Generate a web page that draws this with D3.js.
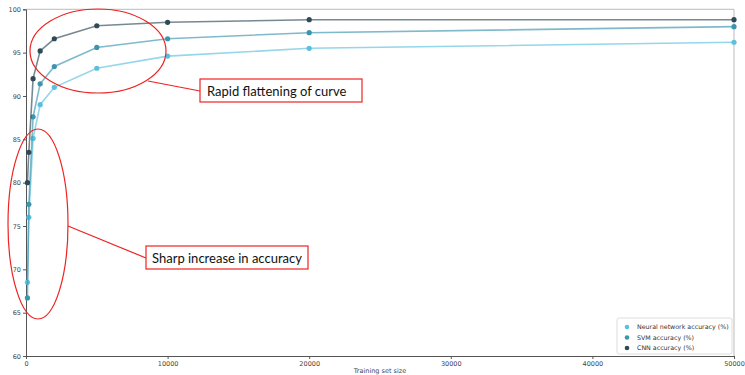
<!DOCTYPE html>
<html><head><meta charset="utf-8">
<script src="https://cdn.jsdelivr.net/npm/d3@7"></script>
<style>body{margin:0;background:#fff}svg{display:block}</style>
</head><body><svg id="c" width="745" height="375"></svg>
<script>
const sizes = [100, 200, 500, 1000, 2000, 5000, 10000, 20000, 50000];
const nnAcc  = [68.5, 76.0, 85.1, 89.0, 91.0, 93.2, 94.6, 95.5, 96.2];
const svmAcc = [66.7, 77.5, 87.6, 91.4, 93.4, 95.6, 96.6, 97.3, 98.0];
const cnnAcc = [80.0, 83.5, 92.0, 95.2, 96.6, 98.1, 98.5, 98.8, 98.8];
const seriesNames = ["Neural network accuracy (%)", "SVM accuracy (%)", "CNN accuracy (%)"];
const xTicks = [0, 10000, 20000, 30000, 40000, 50000];
const yTicks = [60, 65, 70, 75, 80, 85, 90, 95, 100];
const colors = ["#5bc0de", "#3b95ad", "#2e4a55"];

const svg = d3.select("#c");
const m = {l: 26, r: 734, t: 9.3, b: 356};
const x = d3.scaleLinear().domain([0, 50000]).range([m.l, m.r]);
const y = d3.scaleLinear().domain([60, 100]).range([m.b, m.t]);

// frame top/right
svg.append("line").attr("x1", m.l).attr("x2", m.r).attr("y1", m.t).attr("y2", m.t).attr("stroke", "#bbb").attr("stroke-width", 1);
svg.append("line").attr("x1", m.r).attr("x2", m.r).attr("y1", m.t).attr("y2", m.b).attr("stroke", "#bbb").attr("stroke-width", 1);

const fontTick = "DejaVu Sans";
const gx = svg.append("g").attr("transform", `translate(0,${m.b})`)
  .call(d3.axisBottom(x).tickValues(xTicks).tickFormat(d3.format("d")).tickSizeOuter(0).tickSize(3).tickPadding(2));
const gy = svg.append("g").attr("transform", `translate(${m.l},0)`)
  .call(d3.axisLeft(y).tickValues(yTicks).tickFormat(d3.format("d")).tickSizeOuter(0).tickSize(3).tickPadding(2));
[gx, gy].forEach(g => {
  g.selectAll("path").attr("stroke", "#555");
  g.selectAll("line").attr("stroke", "#555");
  g.selectAll("text").attr("font-family", fontTick).attr("font-size", 6.5).attr("fill", "#444");
});
svg.append("text").attr("x", (m.l + m.r) / 2).attr("y", 373).attr("text-anchor", "middle")
  .attr("font-family", fontTick).attr("font-size", 6.5).attr("fill", "#444").text("Training set size");

const allSeries = [nnAcc, svmAcc, cnnAcc];
const line = d3.line().x((d, i) => x(sizes[i])).y(d => y(d));
allSeries.forEach((vals, k) => {
  svg.append("path").datum(vals).attr("d", line).attr("fill", "none")
    .attr("stroke", colors[k]).attr("stroke-width", 1.6).attr("stroke-opacity", 0.65);
  svg.append("g").selectAll("circle").data(vals).join("circle")
    .attr("cx", (d, i) => x(sizes[i])).attr("cy", d => y(d)).attr("r", 2.6).attr("fill", colors[k]);
});

// legend
const lg = svg.append("g");
lg.append("rect").attr("x", 617).attr("y", 318).attr("width", 115).attr("height", 36)
  .attr("fill", "#fff").attr("stroke", "#ddd").attr("rx", 2);
seriesNames.forEach((n, k) => {
  const yy = 327 + k * 10.5;
  lg.append("circle").attr("cx", 627).attr("cy", yy).attr("r", 2.3).attr("fill", colors[k]);
  lg.append("text").attr("x", 637).attr("y", yy + 2.3).attr("font-family", fontTick).attr("font-size", 6.3).attr("fill", "#333").text(n);
});

// annotations
const red = "#ee2222";
svg.append("ellipse").attr("cx", 98).attr("cy", 51).attr("rx", 68).attr("ry", 42).attr("fill", "none").attr("stroke", red).attr("stroke-width", 1.2);
svg.append("line").attr("x1", 148).attr("y1", 81).attr("x2", 200).attr("y2", 91).attr("stroke", red).attr("stroke-width", 1.2);
svg.append("rect").attr("x", 200).attr("y", 79).attr("width", 162).attr("height", 23).attr("fill", "#fff").attr("stroke", red).attr("stroke-width", 1.2);
svg.append("text").attr("x", 207).attr("y", 95.5).attr("font-family", "Lato").attr("font-size", 13).attr("fill", "#111").text("Rapid flattening of curve");

svg.append("ellipse").attr("cx", 38).attr("cy", 224).attr("rx", 30).attr("ry", 95).attr("fill", "none").attr("stroke", red).attr("stroke-width", 1.2);
svg.append("line").attr("x1", 68).attr("y1", 226).attr("x2", 146).attr("y2", 258).attr("stroke", red).attr("stroke-width", 1.2);
svg.append("rect").attr("x", 146).attr("y", 246).attr("width", 162).attr("height", 23).attr("fill", "#fff").attr("stroke", red).attr("stroke-width", 1.2);
svg.append("text").attr("x", 152).attr("y", 262.5).attr("font-family", "Lato").attr("font-size", 13).attr("fill", "#111").text("Sharp increase in accuracy");
</script></body></html>
